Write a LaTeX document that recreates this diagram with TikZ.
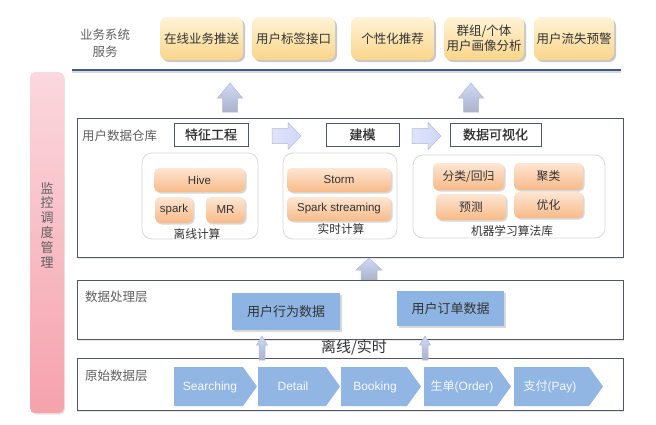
\documentclass[tikz,border=0pt]{standalone}
\usepackage{fontspec}
\setmainfont{Liberation Sans}
\newfontfamily\cjk{Noto Sans CJK SC}
\newfontfamily\cjkb{Noto Sans CJK SC}[FakeBold=0.6]
\usetikzlibrary{shadows}
\definecolor{ytop}{HTML}{FEF3D6}
\definecolor{ybot}{HTML}{FAD58A}
\definecolor{otop}{HTML}{FDE6D4}
\definecolor{obot}{HTML}{F8BA88}
\definecolor{bluebox}{HTML}{8EB4E3}
\definecolor{chevc}{HTML}{92B6E4}
\definecolor{pinktop}{HTML}{FBD8DE}
\definecolor{pinkbot}{HTML}{F5A2AC}
\definecolor{layerc}{HTML}{52566A}
\definecolor{grpc}{HTML}{D8D8D8}
\definecolor{navy}{HTML}{3A5A8C}
\definecolor{txt}{HTML}{333333}
\definecolor{lbl}{HTML}{5F5F5F}
\definecolor{arrtop}{HTML}{CFD8F7}
\definecolor{arrbot}{HTML}{ABB1C8}
\definecolor{arrline}{HTML}{B3B9CE}
\begin{document}
\begin{tikzpicture}[x=1pt,y=-1pt,
  ybox/.style={rounded corners=7pt, top color=ytop, bottom color=ybot, inner sep=0pt,
    drop shadow={shadow xshift=2pt, shadow yshift=-2pt, fill=black!40, opacity=.55},
    font=\cjk\fontsize{12.5}{14.5}\selectfont, text=txt, align=center},
  obox/.style={rounded corners=5pt, top color=otop, bottom color=obot, inner sep=0pt,
    drop shadow={shadow xshift=1.5pt, shadow yshift=-1.5pt, fill=black!30, opacity=.5},
    font=\fontsize{11.5}{13}\selectfont, text=txt},
  ocjk/.style={obox, font=\cjk\fontsize{11.8}{13}\selectfont},
  layer/.style={draw=layerc, line width=0.9pt, fill=white, inner sep=0pt,
    drop shadow={shadow xshift=1pt, shadow yshift=-2pt, fill=black!15, opacity=.6}},
  grp/.style={draw=grpc, line width=0.8pt, rounded corners=10pt, fill=white, inner sep=0pt},
  hbox/.style={draw=layerc, line width=0.9pt, fill=white, inner sep=0pt,
    drop shadow={shadow xshift=1pt, shadow yshift=-1pt, fill=black!20, opacity=.5},
    font=\cjkb\fontsize{13}{15}\selectfont, text=txt},
  dbox/.style={fill=bluebox, inner sep=0pt,
    drop shadow={shadow xshift=2pt, shadow yshift=-2pt, fill=black!30, opacity=.5},
    font=\cjk\fontsize{13}{15}\selectfont, text=txt},
  lab/.style={font=\cjk\fontsize{12.5}{15}\selectfont, text=lbl, inner sep=0pt},
  glab/.style={font=\cjk\fontsize{11.7}{13}\selectfont, text=txt, inner sep=0pt},
  chev/.style={fill=chevc},
  chevt/.style={font=\fontsize{12}{14}\selectfont, text=white!92!bluebox, inner sep=0pt,
    text height=9pt, text depth=3pt},
  arrowup/.style={top color=arrtop, bottom color=arrbot, draw=arrline, line width=0.5pt},
  arrowrt/.style={left color=arrtop!85!blue!40, right color=arrtop, draw=arrline, line width=0.5pt},
  pics/uparr/.style n args={4}{code={
    \path[arrowup] (0,0) -- (#2/2,#4) -- (#3/2,#4) -- (#3/2,#1) -- (-#3/2,#1)
      -- (-#3/2,#4) -- (-#2/2,#4) -- cycle;}},
  pics/rtarr/.style n args={4}{code={
    \path[arrowrt] (0,0) -- (-#4,-#2/2) -- (-#4,-#3/2) -- (-#1,-#3/2) -- (-#1,#3/2)
      -- (-#4,#3/2) -- (-#4,#2/2) -- cycle;}}
]
\useasboundingbox (0,0) rectangle (656,424);

% monitoring bar
\node[rounded corners=5pt, top color=pinktop, bottom color=pinkbot, minimum width=34pt,
  minimum height=341pt, inner sep=0pt,
  drop shadow={shadow xshift=1pt, shadow yshift=-1.5pt, fill=black!20, opacity=.5}] (mon) at (47,242.5) {};
\node[font=\cjk\fontsize{13}{14.8}\selectfont, text=lbl, align=center, inner sep=0pt] (montxt) at (47,225)
  {监\\控\\调\\度\\管\\理};

% business services
\node[lab, align=center, font=\cjk\fontsize{12.5}{17}\selectfont] (biz) at (105,43.5) {业务系统\\服务};
\node[ybox, minimum width=83pt, minimum height=43pt] (t1) at (201.5,38.5) {在线业务推送};
\node[ybox, minimum width=83pt, minimum height=43pt] (t2) at (293.5,38.5) {用户标签接口};
\node[ybox, minimum width=83pt, minimum height=43pt] (t3) at (392.5,38.5) {个性化推荐};
\node[ybox, minimum width=80pt, minimum height=43pt] (t4) at (484,38.5) {群组/个体\\用户画像分析};
\node[ybox, minimum width=80pt, minimum height=43pt] (t5) at (574,38.5) {用户流失预警};
\coordinate (la) at (72,70);
\coordinate (lb) at (621,70);
\draw[black!15, line width=2pt] ([yshift=-2pt]la) -- ([yshift=-2pt]lb);
\draw[navy, line width=1.8pt] (la) -- (lb);

\pic at (230,83) {uparr={29}{25}{15}{15}};
\pic at (471,83) {uparr={29}{25}{15}{15}};

% warehouse layer
\node[layer, minimum width=546pt, minimum height=139pt] (wh) at (350,187.5) {};
\node[lab, anchor=west] (whl) at (82,136) {用户数据仓库};
\node[hbox, minimum width=74pt, minimum height=23pt] (fe) at (211,134.5) {特征工程};
\node[hbox, minimum width=73pt, minimum height=23pt] (md) at (362.5,134.5) {建模};
\node[hbox, minimum width=91pt, minimum height=23pt] (dv) at (495.5,134.5) {数据可视化};
\pic at (301,136) {rtarr={29}{27}{15}{13}};
\pic at (441,136) {rtarr={29}{27}{15}{13}};

\node[grp, minimum width=116pt, minimum height=86pt] (g1) at (200,196) {};
\node[grp, minimum width=114pt, minimum height=86pt] (g2) at (340,196) {};
\node[grp, minimum width=192pt, minimum height=83pt] (g3) at (509,196.5) {};

\node[obox, minimum width=91pt, minimum height=24pt] (hive) at (199.5,180) {Hive};
\node[obox, minimum width=38pt, minimum height=26pt] (spark) at (174,210) {spark};
\node[obox, minimum width=39pt, minimum height=26pt] (mr) at (225.5,210) {MR};
\node[glab] (g1l) at (197,234) {离线计算};

\node[obox, minimum width=104pt, minimum height=24pt] (storm) at (339,180) {Storm};
\node[obox, minimum width=104pt, minimum height=24pt] (sps) at (339,209) {Spark streaming};
\node[glab] (g2l) at (341,229) {实时计算};

\node[ocjk, minimum width=71pt, minimum height=27pt] (cls) at (468.5,176.5) {分类/回归};
\node[ocjk, minimum width=69pt, minimum height=27pt] (clu) at (548.5,176.5) {聚类};
\node[ocjk, minimum width=70pt, minimum height=26pt] (pre) at (471,207) {预测};
\node[ocjk, minimum width=69pt, minimum height=26pt] (opt) at (548.5,205) {优化};
\node[glab] (g3l) at (512,231) {机器学习算法库};

\pic at (369,258) {uparr={23}{26}{16}{12}};

% processing layer
\node[layer, minimum width=546pt, minimum height=59pt] (pl) at (350,309.5) {};
\node[lab, anchor=west] (pll) at (85,297) {数据处理层};
\node[dbox, minimum width=108pt, minimum height=37pt] (ub) at (286,311.5) {用户行为数据};
\node[dbox, minimum width=107pt, minimum height=35pt] (uo) at (450.5,308.5) {用户订单数据};
\node[font=\cjk\fontsize{15}{17}\selectfont, text=txt, inner sep=0pt] (ol) at (354,347) {离线/实时};

% raw layer
\node[layer, minimum width=546pt, minimum height=52pt] (rl) at (350,384) {};
\node[lab, anchor=west] (rll) at (85,376) {原始数据层};

\pic at (262,336) {uparr={24}{11}{6}{9}};
\pic at (425,336) {uparr={24}{11}{6}{9}};

\fill[chev] (174,367) -- (243,367) -- (257,386.5) -- (243,406) -- (174,406) -- cycle;
\fill[chev] (258,367) -- (326,367) -- (340,386.5) -- (326,406) -- (258,406) -- cycle;
\fill[chev] (341,367) -- (407,367) -- (421,386.5) -- (407,406) -- (341,406) -- cycle;
\fill[chev] (424,367) -- (497,367) -- (511,386.5) -- (497,406) -- (424,406) -- cycle;
\fill[chev] (514,367) -- (589,367) -- (603,386.5) -- (589,406) -- (514,406) -- cycle;
\node[chevt] (c1) at (210,387) {Searching};
\node[chevt] (c2) at (293,387) {Detail};
\node[chevt] (c3) at (375,387) {Booking};
\node[chevt] (c4) at (462,387) {{\cjk 生单}(Order)};
\node[chevt] (c5) at (550,387) {{\cjk 支付}(Pay)};
\end{tikzpicture}
\end{document}
